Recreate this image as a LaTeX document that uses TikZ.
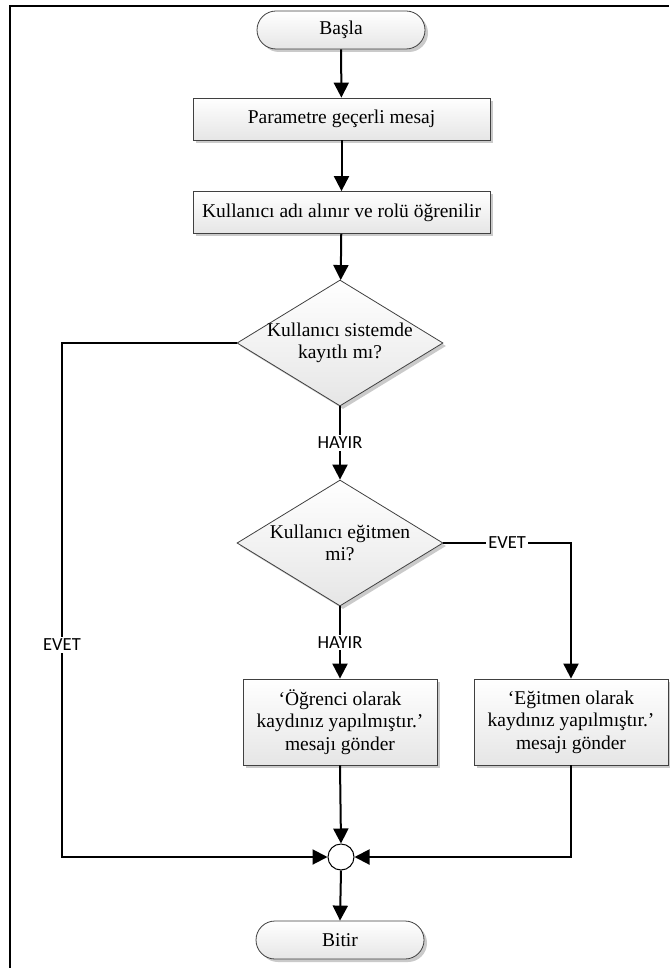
\documentclass[tikz,border=0pt]{standalone}
\usepackage{fontspec}
\setmainfont{Liberation Serif}
\newfontfamily\lblfont{Carlito}
\usetikzlibrary{arrows.meta,shadows,shapes.geometric}
\begin{document}
\begin{tikzpicture}[x=1pt,y=-1pt,
  every node/.style={font=\fontsize{19.5}{22.5}\selectfont},
  boxfill/.style={draw=black!75, line width=0.8pt, top color=white, bottom color=black!10,
    drop shadow={shadow xshift=3pt, shadow yshift=-3pt, fill=black!35, opacity=0.6}},
  terminal/.style={boxfill, rectangle, rounded corners=19pt, minimum width=168pt, minimum height=38pt, inner sep=0pt},
  process/.style={boxfill, rectangle, minimum width=297pt, minimum height=42pt, inner sep=0pt, align=center},
  message/.style={boxfill, rectangle, minimum width=194pt, minimum height=86pt, inner sep=0pt, align=center},
  decision/.style={boxfill, diamond, minimum width=206pt, minimum height=126pt, inner sep=0pt},
  junction/.style={circle, draw=black, line width=1pt, fill=white, minimum size=26pt, inner sep=0pt},
  flow/.style={line width=2pt, -{Triangle[width=15pt,length=15pt]}},
  lbl/.style={font=\lblfont\fontsize{18.5}{21}\selectfont, fill=white, inner sep=2pt}
]
\useasboundingbox (0,0) rectangle (669,968);

% outer frame
\draw[line width=2.5pt] (10,968) -- (10,6) -- (669,6);

% nodes
\node[terminal] (start) at (341,30) {Başla};
\node[process] (p1) at (341.5,119) {Parametre geçerli mesaj};
\node[process] (p2) at (341.5,212.5) {Kullanıcı adı alınır ve rolü öğrenilir};
\node[decision, label={[align=center]center:{Kullanıcı sistemde\\kayıtlı mı?}}] (d1) at (340,343) {};
\node[decision, label={[align=center]center:{Kullanıcı eğitmen\\mi?}}] (d2) at (340,543) {};
\node[message] (b1) at (340,722) {‘Öğrenci olarak\\kaydınız yapılmıştır.’\\mesajı gönder};
\node[message] (b2) at (571,722) {‘Eğitmen olarak\\kaydınız yapılmıştır.’\\mesajı gönder};
\node[junction] (j) at (341,857) {};
\node[terminal] (end) at (340,940) {Bitir};
\coordinate (cl) at (62,645);

% connectors
\draw[flow] (start) -- (p1);
\draw[flow] (p1) -- (p2);
\draw[flow] (p2) -- (d1);
\draw[flow] (d1.west) -| (cl) node[lbl] {EVET} |- (j.west);
\draw[flow] (d1.south) -- node[lbl] {HAYIR} (d2.north);
\draw[flow] (d2.east) -| node[lbl, pos=0.25] {EVET} (b2.north);
\draw[flow] (d2.south) -- node[lbl] {HAYIR} (b1.north);
\draw[flow] (b1.south) -- (j.north);
\draw[flow] (b2.south) |- (j.east);
\draw[flow] (j.south) -- (end.north);
\end{tikzpicture}
\end{document}
